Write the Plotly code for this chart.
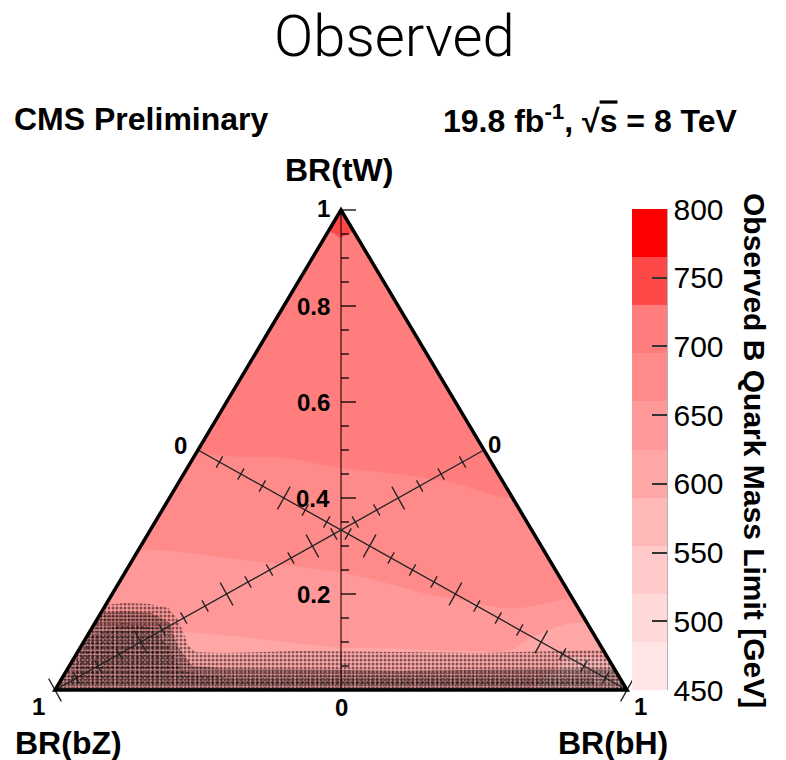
import plotly.graph_objects as go

# ---------------------------------------------------------------------------
# Observed B-quark mass limit (GeV) on the BR(tW) / BR(bH) / BR(bZ) triangle.
# Cartesian layout of the triangle: BR(bZ)=1 vertex at x=0, BR(bH)=1 vertex at
# x=1, BR(tW)=1 apex at (0.5, 1); x = BR(bH) + BR(tW)/2, y = BR(tW).
# Nodes outside the triangle carry no value (None).
# ---------------------------------------------------------------------------
grid_x = [0.0, 0.1, 0.2, 0.3, 0.4, 0.5, 0.6, 0.7, 0.8, 0.9, 1.0]
grid_tw = [0.0, 0.05, 0.1, 0.15, 0.2, 0.25, 0.3, 0.35, 0.4, 0.45,
           0.5, 0.6, 0.7, 0.8, 0.9, 0.95, 1.0]
N = None
mass_limit = [
    [592, 594, 596, 598, 600, 600, 600, 600, 598, 575, 570],
    [N, 606, 608, 610, 613, 615, 615, 614, 612, 585, N],
    [N, 618, 620, 622, 625, 628, 629, 631, 631, 600, N],
    [N, 630, 631, 633, 636, 639, 643, 648, 656, 632, N],
    [N, 641, 642, 644, 647, 650, 657, 663, 666, 665, N],
    [N, N, 652, 656, 658, 661, 666, 671, 674, N, N],
    [N, N, 662, 664, 667, 669, 674, 678, 681, N, N],
    [N, N, 672, 672, 675, 677, 681, 685, 688, N, N],
    [N, N, 680, 680, 683, 685, 688, 692, 695, N, N],
    [N, N, N, 689, 691, 694, 695, 697, N, N, N],
    [N, N, N, 697, 697, 698, 698, 700, N, N, N],
    [N, N, N, 704, 704, 705, 705, 706, N, N, N],
    [N, N, N, N, 712, 713, 712, N, N, N, N],
    [N, N, N, N, 719, 720, 719, N, N, N, N],
    [N, N, N, N, N, 727, N, N, N, N, N],
    [N, N, N, N, N, 730.5, N, N, N, N, N],
    [N, N, N, N, N, 738, N, N, N, N, N],
]

# contour levels and colour bar
level_start, level_end, level_step = 450, 800, 35
cbar_ticks = [450, 500, 550, 600, 650, 700, 750, 800]
band_colors = ['#ffe5e5', '#ffd8d8', '#ffc9c9', '#ffb8b8', '#ffa7a7',
               '#ff9898', '#ff8a8a', '#ff7d7d', '#ff4848', '#ff0000']

# speckled low-statistics region near BR(tW)=0 (x, y in triangle coordinates)
speckle_x = [0.0, 1.0, 0.958, 0.883, 0.743, 0.603, 0.428, 0.288, 0.245,
             0.2325, 0.224, 0.213, 0.198, 0.166, 0.122, 0.0885, 0.0]
speckle_y = [0.0, 0.0, 0.0833, 0.081, 0.077, 0.079, 0.081, 0.077, 0.079,
             0.094, 0.121, 0.15, 0.171, 0.179, 0.181, 0.177, 0.0]
dense_x = [0.0, 1.0, 0.975, 0.6, 0.3, 0.24, 0.215, 0.2, 0.17, 0.12, 0.08, 0.0]
dense_y = [0.0, 0.0, 0.045, 0.04, 0.045, 0.05, 0.09, 0.14, 0.16, 0.165, 0.16, 0.0]
core_x = [0.02, 0.95, 0.94, 0.3, 0.22, 0.2, 0.17, 0.12, 0.06, 0.02]
core_y = [0.01, 0.01, 0.025, 0.025, 0.04, 0.09, 0.13, 0.14, 0.11, 0.01]

# axis ticks (every 0.05, labelled every 0.2)
axis_ticks = [round(0.05 * i, 2) for i in range(21)]
tick_labels = ['0.2', '0.4', '0.6', '0.8']

# ---------------------------------------------------------------------------
W, H = 786, 760
LEFT, RIGHT, TOP, BOTTOM = 55, 627, 210, 690
PW, PH = RIGHT - LEFT, BOTTOM - TOP
FONT = 'Liberation Sans, Arial, Helvetica, sans-serif'


def px_x(p):
    return (p - LEFT) / PW


def px_y(p):
    return (BOTTOM - p) / PH


fig = go.Figure()

stops = [band_colors[0]] + band_colors + [band_colors[-1]]
contour_scale = [[k / (len(stops) - 1), c] for k, c in enumerate(stops)]

fig.add_trace(go.Contour(
    x=grid_x, y=grid_tw, z=mass_limit, connectgaps=True,
    autocontour=False,
    contours=dict(start=level_start, end=level_end, size=level_step,
                  coloring='fill', showlines=False),
    colorscale=contour_scale, showscale=False,
    line=dict(width=0), hoverinfo='skip'))


def speckle(xs, ys, size, solidity):
    fig.add_trace(go.Scatter(
        x=xs, y=ys, mode='lines', fill='toself',
        line=dict(width=0), fillcolor='rgba(0,0,0,0)',
        fillpattern=dict(shape='.', fgcolor='black',
                         bgcolor='rgba(0,0,0,0)', size=size,
                         solidity=solidity),
        hoverinfo='skip', showlegend=False))


speckle(speckle_x, speckle_y, 4, 0.45)
speckle(dense_x, dense_y, 3, 0.6)
speckle(core_x, core_y, 5, 0.35)

# colour bar with one flat band per contour interval
n_bands = len(band_colors)
cb_scale = []
for i, c in enumerate(band_colors):
    cb_scale += [[i / n_bands, c], [(i + 1) / n_bands, c]]
fig.add_trace(go.Scatter(
    x=[0.5], y=[0.5], mode='markers', hoverinfo='skip', showlegend=False,
    marker=dict(size=1, opacity=0, color=[level_start], cmin=level_start,
                cmax=level_end, colorscale=cb_scale, showscale=True,
                colorbar=dict(
                    thickness=35, thicknessmode='pixels',
                    len=BOTTOM - 209, lenmode='pixels',
                    x=px_x(632), xanchor='left', xpad=0,
                    y=0, yanchor='bottom', ypad=0,
                    tickvals=cbar_ticks, ticks='inside', ticklen=15,
                    tickwidth=1.5, tickcolor='#333',
                    tickfont=dict(family=FONT, size=30, color='black'),
                    outlinewidth=0))))

shapes = []
white = dict(type='path', xref='paper', yref='paper', fillcolor='white',
             line=dict(width=0), layer='above')
shapes.append(dict(white, path='M 0,0 L 0.5,1 L 0.5,1.02 L -0.02,1.02 L -0.02,0 Z'))
shapes.append(dict(white, path='M 1,0 L 0.5,1 L 0.5,1.02 L 1.02,1.02 L 1.02,0 Z'))


def seg(x0, y0, x1, y1, color='black', width=1.3):
    shapes.append(dict(type='line', xref='paper', yref='paper', x0=x0, y0=y0,
                       x1=x1, y1=y1, line=dict(color=color, width=width),
                       layer='above'))


# BR(tW) axis: vertical line through the apex, ticks to the right
seg(0.5, 0, 0.5, 1, color='rgba(40,0,0,0.55)', width=2)
for i, t in enumerate(axis_ticks):
    length = 15 if i % 4 == 0 else 8
    seg(0.5, t, 0.5 + length / PW, t)


def diag_axis(a, b):
    """Median axis from edge midpoint a (value 0) to vertex b (value 1)."""
    seg(a[0], a[1], b[0], b[1], color='#222', width=1.3)
    dxp = (b[0] - a[0]) * PW
    dyp = -(b[1] - a[1]) * PH
    norm = (dxp ** 2 + dyp ** 2) ** 0.5
    nx, ny = -dyp / norm, dxp / norm
    for i, v in enumerate(axis_ticks):
        if i == 0:
            continue
        half = 13 if i % 4 == 0 else 6.5
        cx = a[0] + v * (b[0] - a[0])
        cy = a[1] + v * (b[1] - a[1])
        seg(cx - half * nx / PW, cy + half * ny / PH,
            cx + half * nx / PW, cy - half * ny / PH, color='#222', width=1.3)


diag_axis((0.25, 0.5), (1.0, 0.0))   # BR(bH)
diag_axis((0.75, 0.5), (0.0, 0.0))   # BR(bZ)

shapes.append(dict(type='path', xref='paper', yref='paper',
                   path='M 0,0 L 1,0 L 0.5,1 Z', layer='above',
                   line=dict(color='black', width=3.5),
                   fillcolor='rgba(0,0,0,0)'))
# colour bar axis line
seg(px_x(667), px_y(690), px_x(667), px_y(209), color='#666', width=1)

annotations = []


def label(text, x, y, size, xanchor='center', bold=True, angle=0,
          family=FONT, weight=None):
    f = dict(family=family, size=size, color='black')
    if weight is not None:
        f['weight'] = weight
    annotations.append(dict(
        text=('<b>%s</b>' % text) if bold else text,
        x=px_x(x), y=px_y(y), xref='paper', yref='paper',
        xanchor=xanchor, yanchor='middle', showarrow=False,
        textangle=angle, font=f))


label('Observed', 394, 36, 58, bold=False,
      family='Roboto, Liberation Sans, sans-serif', weight=300)
label('CMS Preliminary', 12, 119, 32, xanchor='left')
label("19.8 fb<sup>-1</sup>, √<span style='text-decoration:overline'>s</span> = 8 TeV",
      740, 119, 32, xanchor='right')
label('BR(tW)', 339, 170, 32)
label('BR(bZ)', 68, 743, 32)
label('BR(bH)', 613, 743, 32)

for t, txt in zip([0.2, 0.4, 0.6, 0.8], tick_labels):
    annotations.append(dict(text='<b>%s</b>' % txt, x=px_x(332), y=t,
                            xref='paper', yref='paper', xanchor='right',
                            yanchor='middle', showarrow=False,
                            font=dict(family=FONT, size=24, color='black')))
label('1', 323, 208, 24)
label('0', 341, 707, 24)
label('0', 494, 444, 24)
label('1', 38, 706, 24)
label('0', 180, 445, 24)
label('1', 641, 706, 24)
label('Observed B Quark Mass Limit [GeV]', 755, 450, 30, angle=90)

fig.update_layout(
    width=W, height=H, autosize=False,
    margin=dict(l=LEFT, r=W - RIGHT, t=TOP, b=H - BOTTOM, pad=0),
    paper_bgcolor='white', plot_bgcolor='white', showlegend=False,
    xaxis=dict(range=[0, 1], visible=False, fixedrange=True),
    yaxis=dict(range=[0, 1], visible=False, fixedrange=True),
    shapes=shapes, annotations=annotations)

fig.write_html('out.html')
